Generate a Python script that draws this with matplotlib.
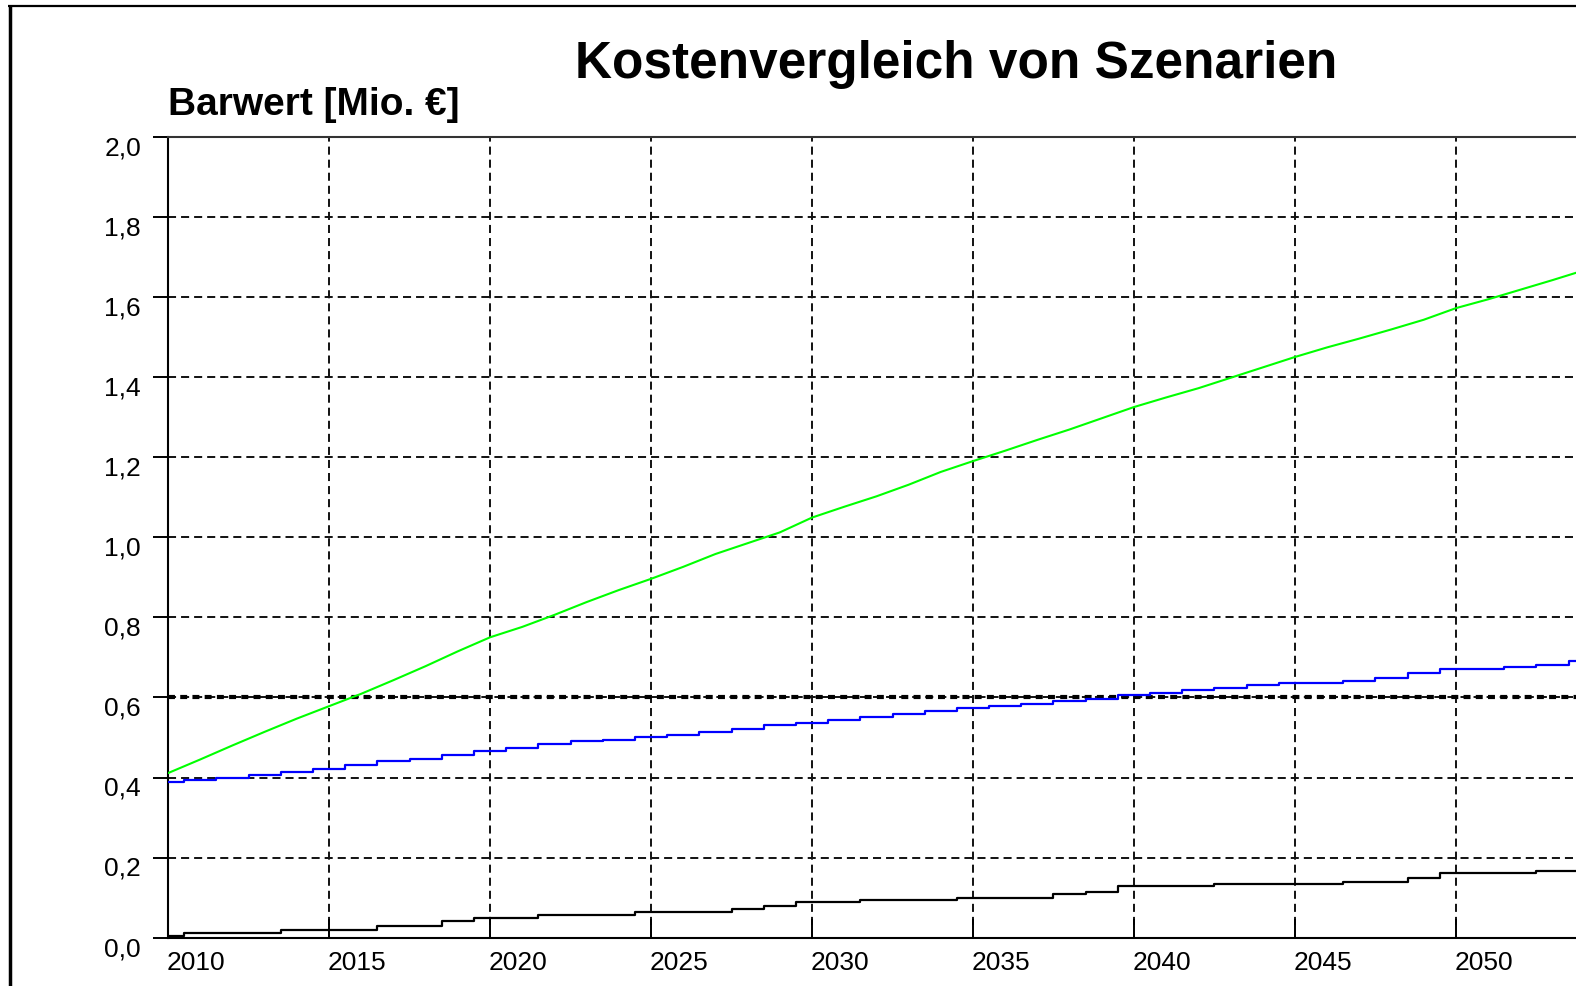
import matplotlib
matplotlib.use("Agg")
import matplotlib.pyplot as plt
from matplotlib.lines import Line2D
import numpy as np

plt.rcParams['font.family'] = ['Liberation Sans', 'DejaVu Sans']
plt.rcParams['lines.scale_dashes'] = False

# ---- data ----
years = list(range(2010, 2055))
green = [0.411, 0.445, 0.480, 0.514, 0.547, 0.578, 0.609, 0.643, 0.678, 0.715,
         0.750, 0.776, 0.806, 0.838, 0.868, 0.896, 0.926, 0.958, 0.985, 1.012,
         1.049, 1.076, 1.102, 1.131, 1.163, 1.190, 1.216, 1.243, 1.269, 1.297,
         1.325, 1.349, 1.372, 1.398, 1.424, 1.450, 1.474, 1.496, 1.519, 1.543,
         1.572, 1.594, 1.618, 1.642, 1.667]
blue = [0.389, 0.394, 0.400, 0.405, 0.413, 0.421, 0.431, 0.441, 0.446, 0.455,
        0.466, 0.474, 0.483, 0.490, 0.494, 0.501, 0.507, 0.514, 0.522, 0.530,
        0.537, 0.544, 0.550, 0.558, 0.566, 0.574, 0.578, 0.584, 0.590, 0.595,
        0.605, 0.611, 0.619, 0.624, 0.630, 0.635, 0.635, 0.641, 0.649, 0.660,
        0.670, 0.670, 0.675, 0.681, 0.690]
black = [0.004, 0.0105, 0.0105, 0.0105, 0.020, 0.020, 0.020, 0.028, 0.028, 0.041,
         0.050, 0.050, 0.056, 0.056, 0.056, 0.0645, 0.0645, 0.0645, 0.0726, 0.079,
         0.0895, 0.0895, 0.094, 0.094, 0.094, 0.100, 0.100, 0.100, 0.109, 0.115,
         0.129, 0.129, 0.129, 0.134, 0.134, 0.134, 0.134, 0.1395, 0.1395, 0.148,
         0.161, 0.161, 0.161, 0.166, 0.166]
x_ticks = [2010, 2015, 2020, 2025, 2030, 2035, 2040, 2045, 2050]
y_ticks = [0.0, 0.2, 0.4, 0.6, 0.8, 1.0, 1.2, 1.4, 1.6, 1.8, 2.0]
y_tick_labels = ["0,0", "0,2", "0,4", "0,6", "0,8", "1,0", "1,2", "1,4", "1,6", "1,8", "2,0"]
title = "Kostenvergleich von Szenarien"
ylabel = "Barwert [Mio. €]"

W, H = 1576, 986
fig = plt.figure(figsize=(W / 100, H / 100), dpi=100)
fig.patch.set_facecolor('white')

ax_left, ax_right_px = 168, 1617
ax_top, ax_bottom = 136.7, 937.7
ax = fig.add_axes([ax_left / W, (H - ax_bottom) / H,
                   (ax_right_px - ax_left) / W, (ax_bottom - ax_top) / H])
ax.set_xlim(2010, 2055)
ax.set_ylim(0, 2.0)

ax.set_xticks(x_ticks)
ax.set_yticks(y_ticks)
ax.grid(True, color='#111111', linewidth=1.4, linestyle=(0, (5.8, 3.6)), zorder=1)
ax.set_axisbelow(True)
ax.axhline(0.6, color='black', linewidth=3.0, linestyle=(0, (5.0, 3.8)), zorder=1.5)

ax.tick_params(axis='y', direction='out', length=10.8, width=1.4, color='black',
               labelleft=False)
ax.tick_params(axis='x', direction='in', length=14, width=1.4, color='black',
               labelbottom=False)

for s in ['left', 'bottom']:
    ax.spines[s].set_linewidth(1.5)
    ax.spines[s].set_color('black')
ax.spines['top'].set_linewidth(1.5)
ax.spines['top'].set_color('#333333')
ax.spines['right'].set_visible(False)

ax.plot(years, black, color='black', linewidth=1.6, drawstyle='steps-mid', zorder=3)
ax.plot(years, blue, color='#0000ff', linewidth=1.6, drawstyle='steps-mid', zorder=3)
ax.plot(years, green, color='#00ff00', linewidth=1.5, zorder=3)

# tick labels
for y, lab in zip(y_ticks, y_tick_labels):
    ax.annotate(lab, xy=(0, y), xycoords=('axes fraction', 'data'),
                xytext=(-19.5, 0.5), textcoords='offset points',
                ha='right', va='top', fontsize=19, color='black')
for x in x_ticks:
    ax.annotate(str(x), xy=(x, 0), xycoords=('data', 'axes fraction'),
                xytext=(-0.7, -9.5), textcoords='offset points',
                ha='left', va='top', fontsize=19, color='black')

fig.text(956.5 / W, 1 - 78.4 / H, title, ha='center', va='baseline',
         fontsize=37, fontweight='bold', color='black')
fig.text(168 / W, 1 - 115 / H, ylabel, ha='left', va='baseline',
         fontsize=28, fontweight='bold', color='black')

# figure frame (left and top edges)
fig.add_artist(Line2D([10 / W, 10 / W], [0, 1 - 5 / H], transform=fig.transFigure,
                      color='black', linewidth=2.5, solid_capstyle='butt'))
fig.add_artist(Line2D([8.3 / W, 1.0], [1 - 6.2 / H, 1 - 6.2 / H], transform=fig.transFigure,
                      color='black', linewidth=1.6, solid_capstyle='butt'))

fig.savefig("out.png", dpi=100)
